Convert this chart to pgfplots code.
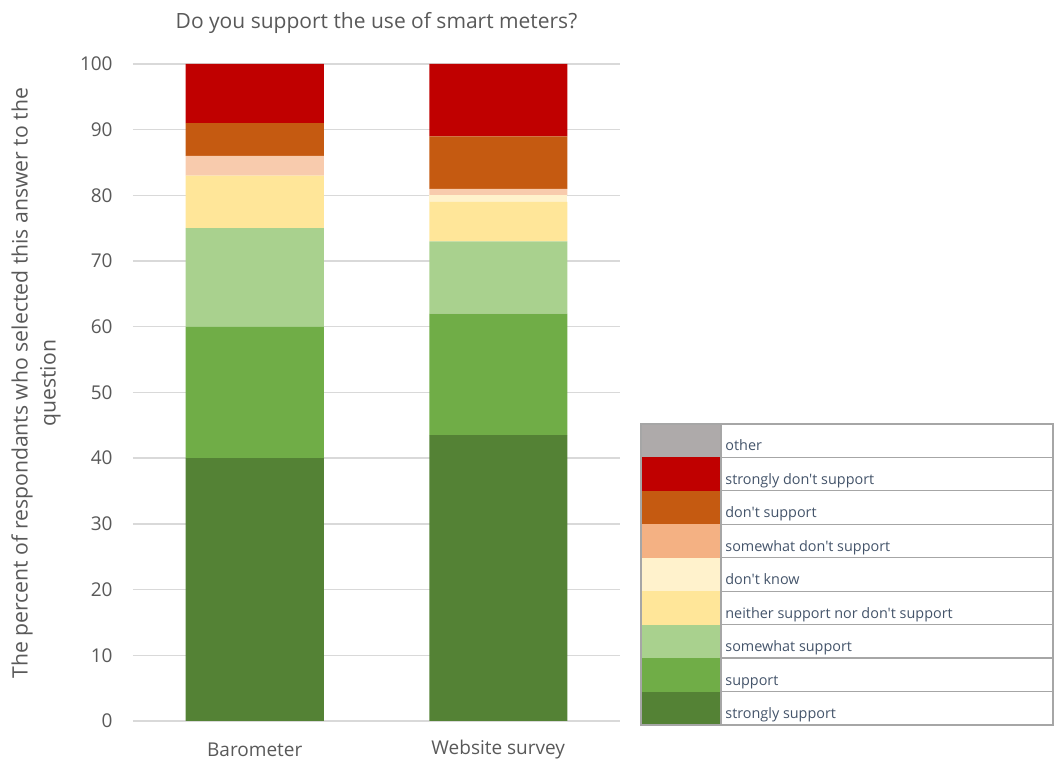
\documentclass[border=0pt]{standalone}
\usepackage{fontspec}
\setmainfont{Open Sans}[Ligatures=TeXOff]
\usepackage{pgfplots}
\pgfplotsset{compat=1.18}
\definecolor{cother}{HTML}{AEAAAA}
\definecolor{csdont}{HTML}{C00000}
\definecolor{cdont}{HTML}{C55A11}
\definecolor{cswdont}{HTML}{F8CBAD}
\definecolor{cswdontleg}{HTML}{F4B183}
\definecolor{cdk}{HTML}{FFF2CC}
\definecolor{cneither}{HTML}{FFE699}
\definecolor{cswsup}{HTML}{A9D18E}
\definecolor{csup}{HTML}{70AD47}
\definecolor{cssup}{HTML}{548235}
\definecolor{gridgray}{HTML}{D9D9D9}
\definecolor{labelgray}{HTML}{595959}
\definecolor{legtext}{HTML}{44546A}
\definecolor{legline}{HTML}{A6A6A6}
\newcommand{\ap}{\char"0027\relax}

\pgfplotstableread{
x ssup sup swsup neither dk swdont dont sdont other
0 40   20   15    8       0  3      5    9     0
1 43.5 18.5 11    6       1  1      8    11    0
}\datatable

\begin{document}
\begin{tikzpicture}
\begin{axis}[
  at={(66.5pt,22pt)}, anchor=south west,
  scale only axis, width=243.5pt, height=328.5pt,
  ybar stacked, bar width=69pt,
  xmin=-0.5, xmax=1.5, ymin=0, ymax=100,
  xtick={0,1}, xticklabels={Barometer, Website survey},
  ytick={0,10,...,100},
  ymajorgrids, grid style={draw=gridgray, line width=0.7pt},
  axis line style={draw=none},
  major tick length=0pt, tick style={draw=none},
  /pgf/number format/assume math mode=true,
  tick label style={font=\fontsize{9.5}{11}\selectfont, text=labelgray},
  yticklabel style={anchor=east, inner sep=0pt, xshift=-10pt},
  xticklabel style={anchor=center, inner sep=0pt, yshift=-14.5pt},
  title={Do you support the use of smart meters?},
  title style={at={(axis description cs:0.5,1)}, anchor=center, yshift=14.5pt,
    font=\fontsize{10.5}{12}\selectfont, text=labelgray},
  ylabel={The percent of respondants who selected this answer to the\\question},
  ylabel style={at={(axis description cs:-0.199,0.514)}, anchor=center, align=center,
    font=\fontsize{10.6}{14}\selectfont, text=labelgray},
  every axis plot/.append style={draw=none},
]
\addplot[fill=cssup] table[x=x,y=ssup] {\datatable};
\addplot[fill=csup] table[x=x,y=sup] {\datatable};
\addplot[fill=cswsup] table[x=x,y=swsup] {\datatable};
\addplot[fill=cneither] table[x=x,y=neither] {\datatable};
\addplot[fill=cdk] table[x=x,y=dk] {\datatable};
\addplot[fill=cswdont] table[x=x,y=swdont] {\datatable};
\addplot[fill=cdont] table[x=x,y=dont] {\datatable};
\addplot[fill=csdont] table[x=x,y=sdont] {\datatable};
\addplot[fill=cother] table[x=x,y=other] {\datatable};
\end{axis}
% legend table (pixel coordinates of the reference)
\begin{scope}[x=0.5pt, y=-0.5pt, shift={(0pt,382.5pt)}]
  \def\rh{33.44}
  \foreach \i/\c/\t in {0/cother/other,
      1/csdont/strongly don\ap t support,
      2/cdont/don\ap t support,
      3/cswdontleg/somewhat don\ap t support,
      4/cdk/don\ap t know,
      5/cneither/neither support nor don\ap t support,
      6/cswsup/somewhat support,
      7/csup/support,
      8/cssup/strongly support}{
    \fill[\c] (641,{424+\i*\rh}) rectangle (721,{424+(\i+1)*\rh});
    \draw[legline, line width=0.6pt] (721,{424+\i*\rh}) -- (1053,{424+\i*\rh});
    \node[anchor=base west, inner sep=0pt, text=legtext,
      font=\fontsize{7.2}{9}\selectfont] at (725,{424+\i*\rh+27}) {\t};
  }
  \draw[legline, line width=0.7pt] (641,424) rectangle (1053,725);
  \draw[legline, line width=0.6pt] (721,424) -- (721,725);
\end{scope}
\pgfresetboundingbox
\path (0pt,0pt) rectangle (528.5pt,382.5pt);
\end{tikzpicture}
\end{document}
